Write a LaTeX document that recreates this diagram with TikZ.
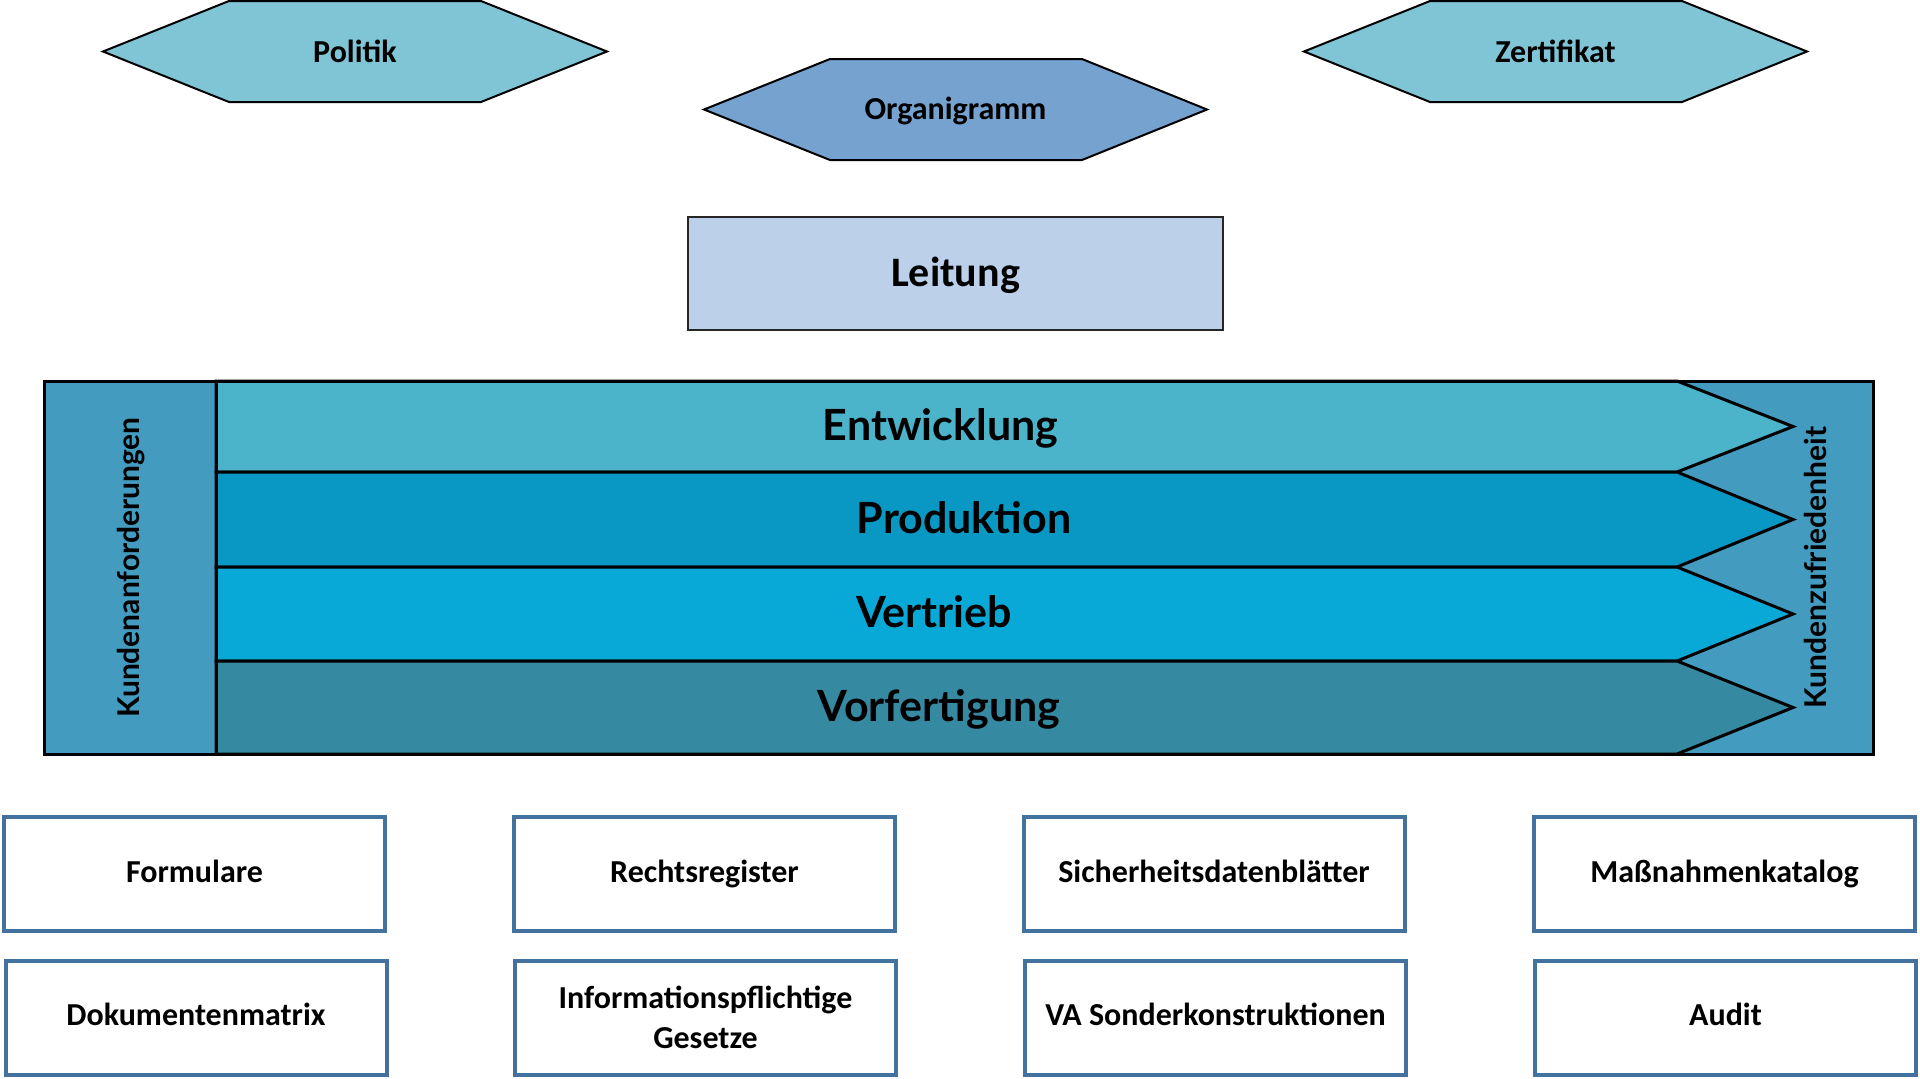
\documentclass[tikz,border=0pt]{standalone}
\usepackage{fontspec}
\setmainfont{Carlito}
\newfontfamily\latofont{Lato}
\usepackage{tikz}
\usetikzlibrary{positioning}
\definecolor{HexLight}{HTML}{80C5D5}
\definecolor{HexDark}{HTML}{76A2CF}
\definecolor{LeitFill}{HTML}{BCD0E9}
\definecolor{FrameFill}{HTML}{439BC0}
\definecolor{EntwFill}{HTML}{4BB3CA}
\definecolor{ProdFill}{HTML}{0898C3}
\definecolor{VertFill}{HTML}{08A9D7}
\definecolor{VorfFill}{HTML}{3589A1}
\definecolor{DocBlue}{HTML}{44729F}

\begin{document}
\begin{tikzpicture}[x=0.5pt, y=-0.5pt,
    hexa/.style={draw=black, line width=1pt},
    hexlbl/.style={font=\bfseries\fontsize{16}{20}\selectfont, inner sep=0pt, anchor=base},
    bandlbl/.style={font=\latofont\bfseries\fontsize{21.5}{26}\selectfont, inner sep=0pt, anchor=base},
    sidelbl/.style={font=\latofont\bfseries\fontsize{15}{18}\selectfont, inner sep=0pt, rotate=90},
    band/.style={draw=black, line width=1.5pt},
    docbox/.style={draw=DocBlue, line width=2pt, fill=white, minimum width=190.5pt,
        minimum height=57pt, inner sep=0pt, align=center,
        font=\bfseries\fontsize{16}{20}\selectfont}]
    \useasboundingbox (0,0) rectangle (1920,1078);

    % top hexagons
    \draw[hexa, fill=HexLight] (103,51.5) -- (229,1) -- (481,1) -- (607,51.5)
        -- (481,102) -- (229,102) -- cycle;
    \node[hexlbl] (politik) at (355,62) {Politik};
    \draw[hexa, fill=HexDark] (704,109.5) -- (830,59) -- (1082,59) -- (1207,109.5)
        -- (1082,160) -- (830,160) -- cycle;
    \node[hexlbl] (organigramm) at (955.5,119) {Organigramm};
    \draw[hexa, fill=HexLight] (1304,51.5) -- (1430,1) -- (1682,1) -- (1807,51.5)
        -- (1682,102) -- (1430,102) -- cycle;
    \node[hexlbl] (zertifikat) at (1555.5,62) {Zertifikat};

    \node[draw=black!85, line width=1pt, fill=LeitFill, minimum width=267.5pt,
        minimum height=56.5pt, inner sep=0pt] (leitung) at (955.5,273.5) {};
    \node[hexlbl, font=\bfseries\fontsize{21}{25}\selectfont] (leitlbl) at (955.5,286) {Leitung};

    % process frame
    \fill[FrameFill] (44,381) rectangle (1873,754);
    \draw[band, fill=EntwFill] (216,381) -- (1677,381) -- (1793,426.5) -- (1677,472)
        -- (216,472) -- cycle;
    \draw[band, fill=ProdFill] (216,472) -- (1677,472) -- (1793,519.5) -- (1677,567)
        -- (216,567) -- cycle;
    \draw[band, fill=VertFill] (216,567) -- (1677,567) -- (1793,614) -- (1677,661)
        -- (216,661) -- cycle;
    \draw[band, fill=VorfFill] (216,661) -- (1677,661) -- (1793,707.5) -- (1677,754)
        -- (216,754) -- cycle;
    \draw[line width=1.5pt] (44,381) rectangle (1873,754);
    \draw[line width=1.5pt] (216,381) -- (216,754);

    \node[bandlbl] (entw) at (940.5,440) {Entwicklung};
    \node[bandlbl] (prod) at (964,533) {Produktion};
    \node[bandlbl] (vert) at (934,627.5) {Vertrieb};
    \node[bandlbl] (vorf) at (939,721) {Vorfertigung};
    \node[sidelbl] (anford) at (131.5,567.5) {Kundenanforderungen};
    \node[sidelbl] (zufried) at (1815,567.5) {Kundenzufriedenheit};

    % document boxes
    \node[docbox] (formulare) at (194.5,874) {\strut Formulare};
    \node[docbox] (rechts) at (704.5,874) {\strut Rechtsregister};
    \node[docbox] (sdb) at (1214,874) {\strut Sicherheitsdatenblätter};
    \node[docbox] (massn) at (1724.5,874) {\strut Maßnahmenkatalog};
    \node[docbox] (matrix) at (196,1017.5) {\strut Dokumentenmatrix};
    \node[docbox] (infopfl) at (705.5,1017.5) {Informationspflichtige\\Gesetze};
    \node[docbox] (vason) at (1215.5,1017.5) {\strut VA Sonderkonstruktionen};
    \node[docbox] (audit) at (1725.5,1017.5) {\strut Audit};
\end{tikzpicture}
\end{document}
